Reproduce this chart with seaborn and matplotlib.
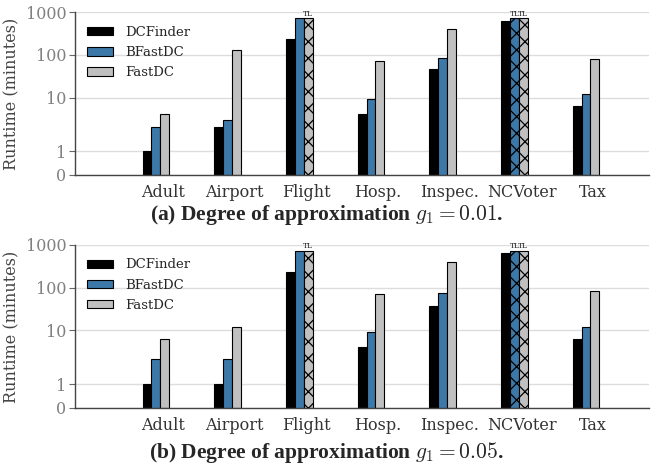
import numpy as np
import pandas as pd
import matplotlib
matplotlib.use("Agg")
import matplotlib.pyplot as plt
import seaborn as sns

# ---- data ----
categories = ["Adult", "Airport", "Flight", "Hosp.", "Inspec.", "NCVoter", "Tax"]
methods = ["DCFinder", "BFastDC", "FastDC"]
colors = ["#000000", "#2b7bba", "#c0c0c0"]

# panel (a): g1 = 0.01
dcfinder_a = [1.0, 2.1, 230, 4.2, 46, 620, 6.2]
bfastdc_a = [2.1, 3.0, 715, 9.2, 83, 720, 12]
fastdc_a = [4.1, 132, 720, 72, 410, 720, 81]
tl_bfastdc_a = [False, False, False, False, False, True, False]
tl_fastdc_a = [False, False, True, False, False, True, False]

# panel (b): g1 = 0.05
dcfinder_b = [1.0, 1.0, 236, 4.2, 38, 632, 6.3]
bfastdc_b = [2.1, 2.1, 715, 9.2, 77, 720, 12.3]
fastdc_b = [6.3, 12.3, 720, 72, 402, 720, 83]
tl_bfastdc_b = [False, False, False, False, False, True, False]
tl_fastdc_b = [False, False, True, False, False, True, False]

captions = [r"(a) Degree of approximation $g_1 = 0.01$.",
            r"(b) Degree of approximation $g_1 = 0.05$."]

sns.set_style("whitegrid")
plt.rcParams["font.family"] = ["DejaVu Serif"]
plt.rcParams["mathtext.fontset"] = "cm"
plt.rcParams["hatch.linewidth"] = 0.9


def make_frame(dcf, bfd, fd):
    rows = []
    for vals, m in zip([dcf, bfd, fd], methods):
        for c, v in zip(categories, vals):
            rows.append({"dataset": c, "method": m, "runtime": v})
    return pd.DataFrame(rows)


def draw_panel(ax, df, tl_flags):
    sns.barplot(data=df, x="dataset", y="runtime", hue="method",
                order=categories, hue_order=methods, palette=colors,
                width=0.37, edgecolor="black", linewidth=0.8,
                errorbar=None, ax=ax)
    ax.set_yscale("symlog", linthresh=2, linscale=1)
    ax.set_ylim(0, 1000)
    ax.set_yticks([0, 1, 10, 100, 1000])
    ax.set_yticklabels(["0", "1", "10", "100", "1000"])
    ax.set_xlim(-1.13, 6.88)
    ax.set_xticks(np.arange(len(categories)) + 0.1)
    ax.set_xticklabels(categories)
    ax.set_xlabel("")
    ax.set_ylabel("Runtime (minutes)", fontsize=11.5, color="#444444")
    ax.xaxis.grid(False)
    ax.yaxis.grid(True, color="#dddddd", linewidth=1)
    ax.tick_params(axis="y", labelsize=11.5, labelcolor="#808080",
                   left=True, length=4, color="#666666", pad=2)
    ax.tick_params(axis="x", labelsize=11.5, labelcolor="#333333",
                   bottom=False, pad=3)
    for s in ["top", "right"]:
        ax.spines[s].set_visible(False)
    for s in ["left", "bottom"]:
        ax.spines[s].set_color("#444444")
        ax.spines[s].set_linewidth(1.0)

    # hatch and label the bars that hit the time limit
    for cont, flags in zip(ax.containers, tl_flags):
        for bar, flag in zip(cont, flags):
            if flag:
                bar.set_hatch("xx")
                ax.text(bar.get_x() + bar.get_width() / 2,
                        bar.get_height() * 1.04, "TL",
                        ha="center", va="bottom", fontsize=5.3,
                        color="#222222")

    leg = ax.legend(loc="upper left", frameon=False, fontsize=9.5,
                    bbox_to_anchor=(0.0, 0.99), handlelength=2.0,
                    handleheight=0.6, handletextpad=0.9, labelspacing=0.55)
    for h in leg.legend_handles:
        h.set_edgecolor("black")


fig = plt.figure(figsize=(6.57, 4.70), dpi=100)
ax_a = fig.add_axes([0.114, 0.628, 0.874, 0.346])
ax_b = fig.add_axes([0.114, 0.132, 0.874, 0.347])

draw_panel(ax_a, make_frame(dcfinder_a, bfastdc_a, fastdc_a),
           [[False] * 7, tl_bfastdc_a, tl_fastdc_a])
draw_panel(ax_b, make_frame(dcfinder_b, bfastdc_b, fastdc_b),
           [[False] * 7, tl_bfastdc_b, tl_fastdc_b])

for y, cap in zip([0.543, 0.038], captions):
    fig.text(0.497, y, cap, ha="center", va="center", fontsize=15.5,
             family=["Liberation Serif", "DejaVu Serif"], weight="bold")

fig.savefig("out.png", dpi=100)
